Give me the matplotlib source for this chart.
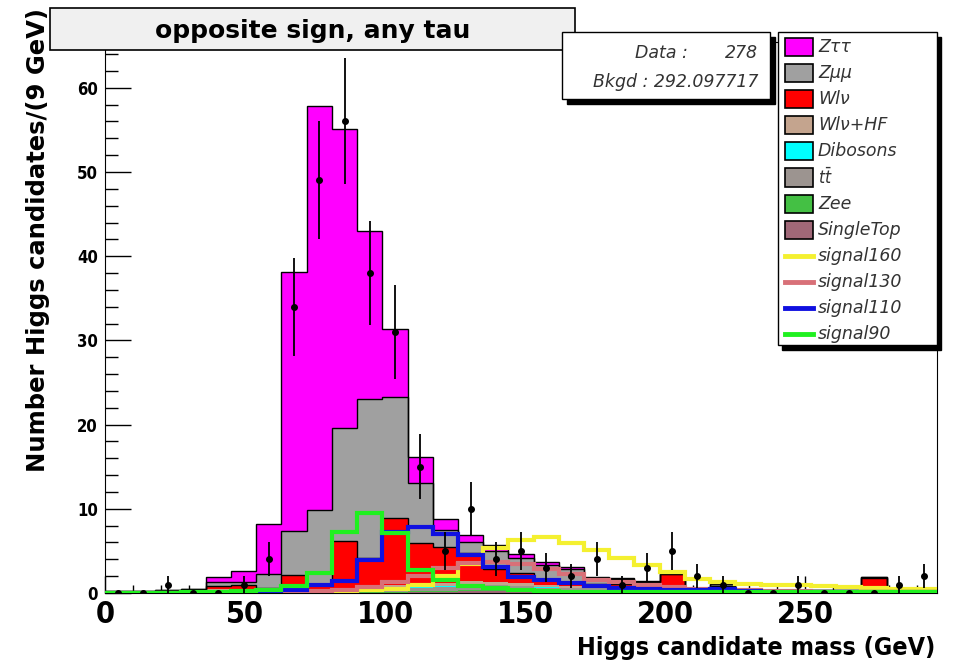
# stacked background histogram with signal overlays and data, opposite sign any tau

import matplotlib.pyplot as plt
import numpy as np
from matplotlib.patches import Rectangle
from matplotlib.lines import Line2D

plt.rcParams['font.family'] = ['DejaVu Sans']
plt.rcParams['font.stretch'] = 'condensed'

# 33 bins of 9 GeV from 0 to 297
edges = np.arange(34) * 9
centers = edges[:-1] + 4.5

# background components (events per bin)
ztautau = [0, 0, 0, 0, 0.6, 1.3, 6.0, 30.8, 48.0, 35.5, 20.0, 8.0, 3.1, 1.3, 0.9, 0.7, 0.5,
           0.4, 0.3, 0.1, 0.1, 0.1, 0.1, 0, 0, 0, 0, 0, 0, 0, 0, 0, 0]
zmumu = [0.1, 0.1, 0.1, 0.1, 0.5, 0.4, 1.6, 5.2, 8.8, 13.4, 18.8, 14.4, 7.2, 2.0, 1.3, 2.2, 1.8,
         1.7, 1.5, 0.7, 0.6, 0.3, 0.1, 0.2, 0.3, 0.1, 0.1, 0.1, 0.1, 0.1, 0.1, 0.1, 0.1]
wlnu = [0, 0, 0.1, 0.3, 0.3, 0.4, 0.3, 1.8, 0.5, 5.6, 3.5, 8.0, 4.8, 4.3, 3.3, 1.5, 1.2,
        0.7, 0.5, 0.4, 0.5, 0.4, 1.5, 0.05, 0.4, 0.05, 0.05, 0.05, 0.05, 0.05, 1.3, 0.25, 0.1]
wlnuhf = [0, 0, 0, 0, 0.1, 0.1, 0.1, 0.2, 0.2, 0.3, 0.3, 0.4, 0.4, 0.4, 0.4, 0.3, 0.3,
          0.2, 0.2, 0.1, 0.1, 0.1, 0.2, 0, 0.1, 0, 0, 0, 0, 0, 0.2, 0, 0]
dibosons = [0, 0, 0, 0, 0, 0, 0, 0.05, 0.1, 0.1, 0.1, 0.1, 0.1, 0.1, 0.1, 0.1, 0.05,
            0.05, 0.05, 0.05, 0.05, 0.05, 0.05, 0, 0.05, 0, 0, 0, 0, 0, 0, 0, 0]
ttbar = [0, 0, 0, 0, 0, 0, 0, 0, 0.1, 0.1, 0.2, 0.3, 0.4, 0.5, 0.6, 0.6, 0.5,
         0.5, 0.4, 0.4, 0.3, 0.3, 0.3, 0.1, 0.2, 0.1, 0.1, 0.1, 0.1, 0.1, 0.1, 0.1, 0.05]
zee = [0.1, 0.1, 0.1, 0.1, 0.1, 0.1, 0.1, 0.1, 0.1, 0.1, 0.1, 0.1, 0.1, 0.1, 0.1, 0.1, 0.1,
       0.05, 0.05, 0.05, 0.05, 0.05, 0.05, 0.05, 0.05, 0.05, 0.05, 0.05, 0.05, 0.05, 0.05, 0.05, 0.05]
singletop = [0, 0, 0, 0, 0.3, 0.3, 0.1, 0, 0, 0, 0, 0, 0.1, 0.1, 0.2, 0.2, 0.2,
             0.1, 0.1, 0.1, 0.1, 0.1, 0.1, 0, 0, 0, 0, 0, 0, 0, 0.1, 0, 0]

# signal templates
signal160 = [0, 0, 0, 0, 0, 0, 0, 0.05, 0.1, 0.2, 0.3, 0.5, 1.0, 2.0, 3.4, 5.3, 6.3,
             6.6, 5.9, 5.1, 4.1, 3.3, 2.5, 1.7, 1.3, 1.1, 1.0, 0.9, 0.8, 0.7, 0.6, 0.5, 0.5]
signal130 = [0, 0, 0, 0, 0, 0, 0.05, 0.1, 0.2, 0.4, 0.7, 1.3, 2.0, 3.0, 3.6, 3.7, 3.4,
             2.9, 2.2, 1.6, 1.3, 1.0, 0.7, 0.5, 0.4, 0.3, 0.2, 0.2, 0.1, 0.1, 0.1, 0.1, 0.1]
signal110 = [0, 0, 0, 0, 0, 0.05, 0.1, 0.3, 1.0, 1.4, 3.9, 7.2, 7.8, 7.0, 4.5, 3.1, 1.9,
             1.5, 1.2, 0.8, 0.6, 0.5, 0.4, 0.3, 0.5, 0.2, 0.1, 0.1, 0.1, 0.1, 0.1, 0.1, 0.1]
signal90 = [0.05, 0.05, 0.05, 0.1, 0.1, 0.2, 0.4, 0.8, 2.4, 7.3, 9.5, 7.1, 2.7, 1.5, 0.8, 0.6, 0.3,
            0.2, 0.1, 0.1, 0.1, 0.1, 0.1, 0.1, 0.1, 0.1, 0.1, 0.1, 0.1, 0.1, 0.1, 0.1, 0.1]

# observed events
data = [0, 0, 1, 0, 0, 1, 4, 34, 49, 56, 38, 31, 15, 5, 10, 4, 5,
        3, 2, 4, 1, 3, 5, 2, 1, 0, 0, 1, 0, 0, 0, 1, 2]

W, H = 955, 668


def fx(px):
    return px / W


def fy(py):
    return 1 - py / H


fig = plt.figure(figsize=(9.55, 6.68), dpi=100)
ax = fig.add_axes([fx(105), fy(593), (937 - 105) / W, (593 - 41.5) / H])

# stack, bottom to top
layers = [
    (singletop, '#a06878', False),
    (zee, '#44c044', False),
    (ttbar, '#9c9490', False),
    (dibosons, '#00ffff', False),
    (wlnuhf, '#c4a48e', False),
    (wlnu, '#ff0000', True),
    (zmumu, '#a0a0a0', True),
    (ztautau, '#ff00ff', True),
]
bottom = np.zeros(len(centers))
for vals, col, outline in layers:
    top = bottom + np.array(vals)
    ax.stairs(top, edges, baseline=bottom, fill=True, color=col, zorder=2)
    if outline:
        ax.stairs(top, edges, baseline=None, color='black', lw=1, zorder=2.1)
    bottom = top

signals = [
    (signal160, '#f4f030'),
    (signal130, '#d87078'),
    (signal110, '#1010e0'),
    (signal90, '#20f020'),
]
for vals, col in signals:
    ax.stairs(vals, edges, baseline=None, color=col, lw=3, zorder=3)

data = np.array(data, dtype=float)
ax.errorbar(centers, data, yerr=np.sqrt(data), fmt='o', color='black', ms=4,
            elinewidth=1.3, capsize=0, zorder=4)

ax.set_xlim(0, 297)
ax.set_ylim(0, 65.5)
ax.set_xticks(np.arange(0, 251, 50))
ax.set_xticks(np.arange(0, 297, 10), minor=True)
ax.set_yticks(np.arange(0, 61, 10))
ax.set_yticks(np.arange(0, 65, 2), minor=True)
ax.set_axisbelow(True)
ax.tick_params(axis='y', which='major', direction='in', length=19, width=1, labelsize=12, pad=5)
ax.tick_params(axis='y', which='minor', direction='in', length=9, width=1)
ax.tick_params(axis='x', which='major', direction='in', length=12, width=1, labelsize=22, pad=5)
ax.tick_params(axis='x', which='minor', direction='in', length=6, width=1)
for lbl in ax.get_xticklabels() + ax.get_yticklabels():
    lbl.set_fontweight('bold')

# axis titles
fig.text(fx(38), fy(240), 'Number Higgs candidates/(9 GeV)', rotation=90, ha='center',
         va='center', fontsize=17.5, fontweight='bold', fontstretch='normal')
fig.text(fx(935), fy(648), 'Higgs candidate mass (GeV)', ha='right', va='center',
         fontsize=18, fontweight='bold')

# title box
fig.add_artist(Rectangle((fx(50), fy(50)), (575 - 50) / W, (50 - 8) / H, transform=fig.transFigure,
                         facecolor='#f0f0f0', edgecolor='black', lw=1.2, zorder=5))
fig.text(fx(313), fy(31), 'opposite sign, any tau', ha='center', va='center', fontsize=18,
         fontweight='bold', fontstretch='normal', zorder=6)

# stats box
fig.add_artist(Rectangle((fx(567), fy(104)), (770 - 562) / W, (99 - 32) / H, transform=fig.transFigure,
                         facecolor='black', edgecolor='black', lw=1, zorder=5))
fig.add_artist(Rectangle((fx(562), fy(99)), (770 - 562) / W, (99 - 32) / H, transform=fig.transFigure,
                         facecolor='white', edgecolor='black', lw=1, zorder=5.1))
stat_font = dict(va='center', fontsize=12.5, style='italic', color='#333333',
                 fontstretch='normal', zorder=6)
fig.text(fx(688), fy(53), 'Data :', ha='right', **stat_font)
fig.text(fx(758), fy(53), '278', ha='right', **stat_font)
fig.text(fx(758), fy(82), 'Bkgd : 292.097717', ha='right', **stat_font)

# legend box
fig.add_artist(Rectangle((fx(782), fy(350)), (937 - 778) / W, (345 - 32) / H, transform=fig.transFigure,
                         facecolor='black', edgecolor='black', lw=1, zorder=5))
fig.add_artist(Rectangle((fx(778), fy(345)), (937 - 778) / W, (345 - 32) / H, transform=fig.transFigure,
                         facecolor='white', edgecolor='black', lw=1, zorder=5.1))

leg_labels = ['Zττ', 'Zμμ', 'Wlν', 'Wlν+HF', 'Dibosons', r'$t\bar{t}$', 'Zee', 'SingleTop',
              'signal160', 'signal130', 'signal110', 'signal90']
leg_colors = ['#ff00ff', '#a0a0a0', '#ff0000', '#c4a48e', '#00ffff', '#9c9490', '#44c044',
              '#a06878', '#f4f030', '#d87078', '#1010e0', '#20f020']
for i, (lab, col) in enumerate(zip(leg_labels, leg_colors)):
    yc = 47 + 26.1 * i
    if i < 8:
        fig.add_artist(Rectangle((fx(785), fy(yc + 9)), 28 / W, 18 / H, transform=fig.transFigure,
                                 facecolor=col, edgecolor='black', lw=1.2, zorder=6))
    else:
        fig.add_artist(Line2D([fx(785), fx(813)], [fy(yc), fy(yc)], transform=fig.transFigure,
                              color=col, lw=3.5, zorder=6))
    fig.text(fx(818), fy(yc), lab, ha='left', **stat_font)

plt.savefig('out.png', dpi=100)
